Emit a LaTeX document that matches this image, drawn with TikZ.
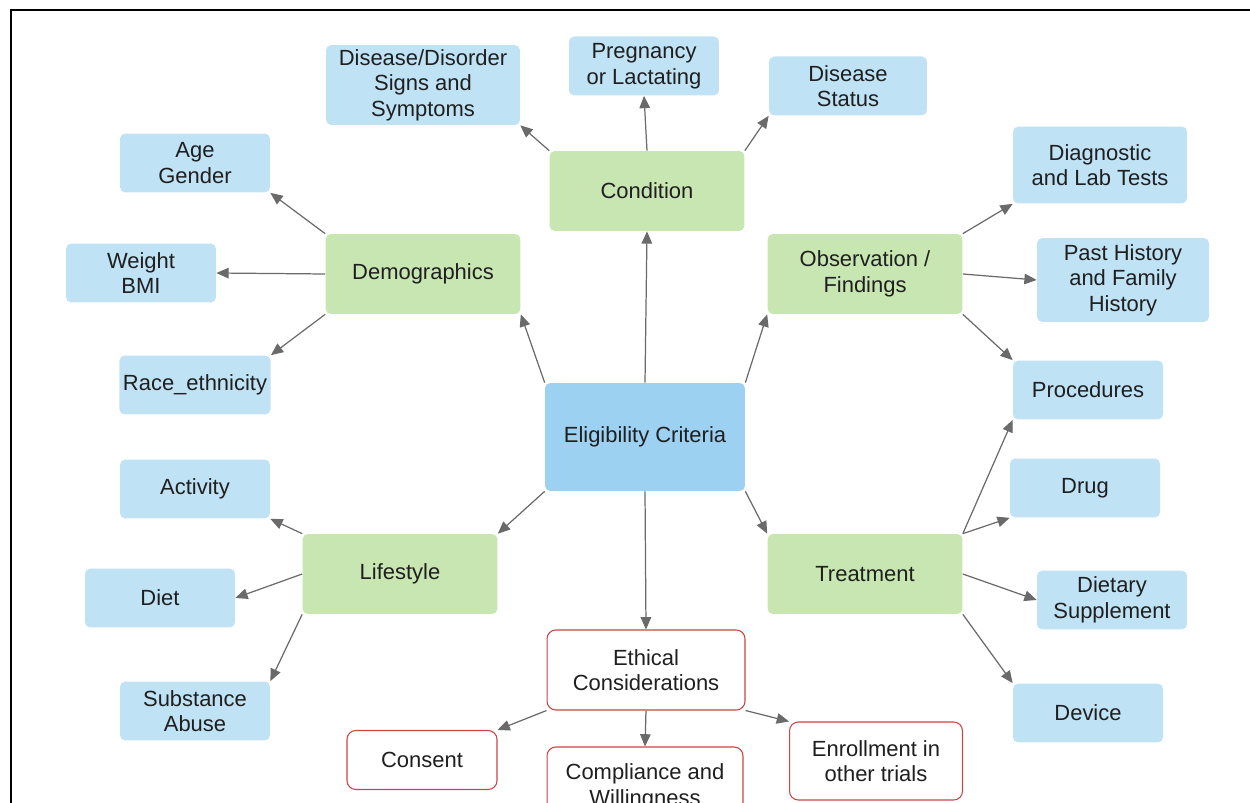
\documentclass[tikz,border=0pt]{standalone}
\usepackage{fontspec}
\setmainfont{Liberation Sans}
\usetikzlibrary{arrows.meta,positioning}

\definecolor{leafblue}{HTML}{C0E2F5}
\definecolor{rootblue}{HTML}{9DD1F2}
\definecolor{topicgreen}{HTML}{C8E6B1}
\definecolor{ethicred}{HTML}{CC4444}
\definecolor{linkgray}{HTML}{6A6A6A}

\tikzset{
  box/.style={rounded corners=3pt, align=center, inner sep=2pt,
              font=\fontsize{12.5}{14.5}\selectfont, text=black!88},
  root/.style={box, fill=rootblue, minimum width=4cm, minimum height=2.16cm},
  topic/.style={box, fill=topicgreen, minimum width=3.9cm, minimum height=1.6cm},
  leaf/.style={box, fill=leafblue, minimum width=3cm, minimum height=1.18cm},
  ethic/.style={box, rounded corners=5pt, draw=ethicred, fill=white, line width=0.6pt,
                minimum width=3cm, minimum height=1.18cm},
  link/.style={draw=linkgray, line width=0.7pt, -{Triangle[length=7pt,width=6pt]}},
}

\begin{document}
\begin{tikzpicture}[x=0.02cm, y=-0.02cm]
   \clip (0,0) rectangle (1250,803);
   \draw[line width=1.2pt] (11,830) -- (11,10) -- (1250,10);

   % center and topics
   \node[root] (ec) at (645,437) {Eligibility Criteria};
   \node[topic] (cond) at (647,191) {Condition};
   \node[topic] (demo) at (423,274) {Demographics};
   \node[topic] (obs) at (865,274) {Observation /\\Findings};
   \node[topic] (life) at (400,574) {Lifestyle};
   \node[topic] (treat) at (865,574) {Treatment};
   \node[ethic, minimum width=3.96cm, minimum height=1.6cm] (ethic) at (646,670) {Ethical\\Considerations};

   % condition leaves
   \node[leaf, minimum width=3.88cm, minimum height=1.6cm] (signs) at (423,85) {Disease/Disorder\\Signs and\\Symptoms};
   \node[leaf] (preg) at (644,66) {Pregnancy\\or Lactating};
   \node[leaf, minimum width=3.16cm] (status) at (848,86) {Disease\\Status};

   % demographics leaves
   \node[leaf] (age) at (195,163) {Age\\Gender};
   \node[leaf] (weight) at (141,273) {Weight\\BMI};
   \node[leaf] (race) at (195,385) {Race\_ethnicity};

   % observation leaves
   \node[leaf, minimum width=3.48cm, minimum height=1.54cm] (diag) at (1100,165) {Diagnostic\\and Lab Tests};
   \node[leaf, minimum width=3.44cm, minimum height=1.68cm] (past) at (1123,280) {Past History\\and Family\\History};
   \node[leaf] (proc) at (1088,390) {Procedures};

   % treatment leaves
   \node[leaf] (drug) at (1085,488) {Drug};
   \node[leaf] (supp) at (1112,600) {Dietary\\Supplement};
   \node[leaf] (device) at (1088,713) {Device};

   % lifestyle leaves
   \node[leaf] (act) at (195,489) {Activity};
   \node[leaf] (diet) at (160,598) {Diet};
   \node[leaf] (subst) at (195,711) {Substance\\Abuse};

   % ethical leaves
   \node[ethic] (consent) at (422,760) {Consent};
   \node[ethic, minimum width=3.92cm, minimum height=1.6cm] (compl) at (645,787) {Compliance and\\Willingness};
   \node[ethic, minimum width=3.46cm, minimum height=1.56cm] (enroll) at (876,761) {Enrollment in\\other trials};

   % links
   \path[every edge/.style={link}]
   (ec.north) edge (cond.south)
   (ec.north west) edge (demo.south east)
   (ec.north east) edge (obs.south west)
   (ec.south west) edge (life.north east)
   (ec.south east) edge (treat.north west)
   (ec.south) edge (ethic.north)
   (cond.north west) edge (signs.south east)
   (cond.north) edge (preg.south)
   (cond.north east) edge (status.south west)
   (demo.north west) edge (age.south east)
   (demo.west) edge (weight.east)
   (demo.south west) edge (race.north east)
   (obs.north east) edge (diag.south west)
   (obs.east) edge (past.west)
   (obs.south east) edge (proc.north west)
   (treat.north east) edge (proc.south west)
   (treat.north east) edge (drug.south west)
   (treat.east) edge (supp.west)
   (treat.south east) edge (device.north west)
   (life.north west) edge (act.south east)
   (life.west) edge (diet.east)
   (life.south west) edge (subst.north east)
   (ethic.south west) edge (consent.north east)
   (ethic.south) edge (compl.north)
   (ethic.south east) edge (enroll.north west);
\end{tikzpicture}
\end{document}
